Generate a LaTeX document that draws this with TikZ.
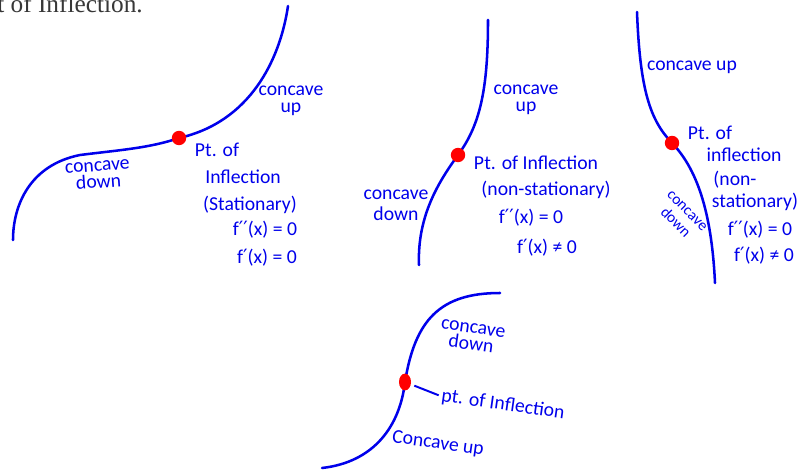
\documentclass[tikz,border=0pt]{standalone}
\usepackage{fontspec}
\setmainfont{Carlito}
\newfontfamily\headfont{Liberation Serif}
\newfontfamily\symfont{DejaVu Sans}
\newcommand{\pr}{{\symfont ′}}
\usetikzlibrary{positioning, shapes.geometric}

\definecolor{penblue}{RGB}{0,0,235}
\definecolor{headgray}{RGB}{55,55,55}

\tikzset{
    curve/.style={penblue, line width=1.8pt, line cap=round},
    ptdot/.style={circle, fill=red, inner sep=0pt, minimum size=0.36cm},
    lbl/.style={penblue, inner sep=0pt, align=center, font=\fontsize{14}{12}\selectfont},
    info/.style={penblue, inner sep=0pt, font=\fontsize{14}{14}\selectfont},
}

\begin{document}
\begin{tikzpicture}[x=0.025cm, y=-0.025cm]
    \useasboundingbox (0,0) rectangle (801,472);

    % heading, cut off by the page
    \node[anchor=base west, inner sep=0pt, text=headgray, font=\headfont\fontsize{18}{18}\selectfont] (head) at (-3,13) {t of Inflection.};

    % Stationary point of inflection
    \draw[curve] (13,240) .. controls (13,205) and (30,165) .. (80,155) .. controls (120,150) and (150,148) .. (179,138) .. controls (250,122) and (280,60) .. (288,6);
    \node[ptdot] (dotA) at (179,138) {};
    \node[lbl] (upA) at (291,101) {concave\\up};
    \node[lbl, rotate=4] (downA) at (98,175) {concave\\down};
    \node[info] (ptA) at (217,150) {Pt. of};
    \node[info] (infA) at (243,177) {Inflection};
    \node[info] (statA) at (250,205) {(Stationary)};
    \node[info] (ddA) at (265,230) {f\pr\pr(x) = 0};
    \node[info] (dA) at (267,258) {f\pr(x) = 0};

    % Non-stationary, rising
    \draw[curve] (419,265) .. controls (417,215) and (440,180) .. (458,155) .. controls (480,125) and (488,90) .. (488,20);
    \node[ptdot] (dotB) at (458,155) {};
    \node[lbl] (upB) at (526,100) {concave\\up};
    \node[lbl] (downB) at (396,205) {concave\\[3pt]down};
    \node[info] (ptB) at (536,163) {Pt. of Inflection};
    \node[info] (statB) at (546,190) {(non-stationary)};
    \node[info] (ddB) at (531,218) {f\pr\pr(x) = 0};
    \node[info] (dB) at (547,248) {f\pr(x) ≠ 0};

    % Non-stationary, falling
    \draw[curve] (637,12) .. controls (640,90) and (650,120) .. (672,143) .. controls (700,172) and (712,220) .. (715,283);
    \node[ptdot] (dotC) at (672,143) {};
    \node[lbl] (upC) at (692,67) {concave up};
    \node[lbl, rotate=-45, font=\fontsize{11}{11}\selectfont] (downC) at (681,217) {concave\\[1pt]down};
    \node[info] (ptC) at (710,133) {Pt. of};
    \node[info] (infC) at (744,155) {inflection};
    \node[info] (nonC) at (735,180) {(non-};
    \node[info] (statC) at (755,202) {stationary)};
    \node[info] (ddC) at (760,230) {f\pr\pr(x) = 0};
    \node[info] (dC) at (764,256) {f\pr(x) ≠ 0};

    % S-shaped curve
    \draw[curve] (322,468) .. controls (375,462) and (400,425) .. (405,382) .. controls (415,320) and (440,293) .. (500,293);
    \node[ptdot, ellipse, minimum width=0.3cm, minimum height=0.42cm] (dotD) at (405,382) {};
    \node[lbl, rotate=-8] (downD) at (472,337) {concave\\down};
    \node[info, rotate=-8] (ptD) at (503,405) {pt. of Inflection};
    \node[lbl, rotate=-8] (upD) at (438,444) {Concave up};
    \draw[penblue, line width=1.4pt, shorten <=2.5pt, shorten >=2pt] (dotD) -- (ptD.west);
\end{tikzpicture}
\end{document}
